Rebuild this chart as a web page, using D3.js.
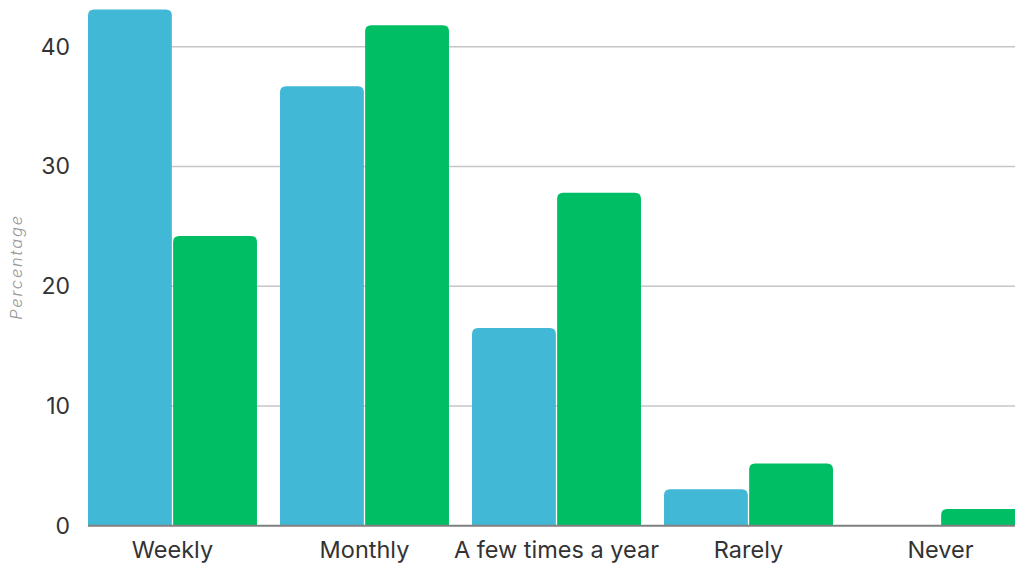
<!DOCTYPE html>
<html>
<head>
<meta charset="utf-8">
<script src="https://cdn.jsdelivr.net/npm/d3@7/dist/d3.min.js"></script>
<style>
  html, body { margin: 0; padding: 0; background: #fff; }
  svg { display: block; }
</style>
</head>
<body>
<svg id="chart" width="1015" height="565"></svg>
<script>
// Frequency categories and the two compared series (percent)
const categories = ["Weekly", "Monthly", "A few times a year", "Rarely", "Never"];
const seriesNames = ["Group A", "Group B"];
const seriesA = [43.1, 36.7, 16.5, 3.05, 0];
const seriesB = [24.2, 41.8, 27.8, 5.2, 1.4];
const yTicks = [0, 10, 20, 30, 40];
const colors = ["#42b8d7", "#00be64"];

const W = 1015, H = 565;
const svg = d3.select("#chart");
const font = "Inter, sans-serif";

const x0 = d3.scaleBand().domain(categories).range([88, 1025]).paddingInner(0.12).paddingOuter(0);
const x1 = d3.scaleBand().domain(seriesNames).range([0, x0.bandwidth()]).paddingInner(0.015);
const y = d3.scaleLinear().domain([0, 40]).range([525.7, 46.7]);

// Horizontal gridlines
svg.append("g")
  .selectAll("line")
  .data(yTicks.filter(t => t > 0))
  .join("line")
  .attr("x1", 88).attr("x2", W)
  .attr("y1", d => y(d)).attr("y2", d => y(d))
  .attr("stroke", "#c6c6c6").attr("stroke-width", 1.5);

// Y axis tick labels
const yAxis = d3.axisLeft(y).tickValues(yTicks).tickSize(0).tickPadding(0);
svg.append("g")
  .attr("transform", "translate(70,0)")
  .call(yAxis)
  .call(g => g.select(".domain").remove())
  .call(g => g.selectAll("text")
    .attr("font-family", font).attr("font-size", 23).attr("fill", "#333"));

// Rounded-top bar path
function barPath(x, yTop, w, yBase, r) {
  const h = yBase - yTop;
  if (h <= 0) return "";
  const rr = Math.min(r, h, w / 2);
  return `M${x},${yBase}V${yTop + rr}Q${x},${yTop} ${x + rr},${yTop}` +
         `H${x + w - rr}Q${x + w},${yTop} ${x + w},${yTop + rr}V${yBase}Z`;
}

const rows = categories.map((c, i) => ({ cat: c, vals: [seriesA[i], seriesB[i]] }));

const groups = svg.append("g")
  .selectAll("g")
  .data(rows)
  .join("g")
  .attr("transform", d => `translate(${x0(d.cat)},0)`);

groups.selectAll("path")
  .data(d => d.vals.map((v, j) => ({ v, j })))
  .join("path")
  .attr("d", d => barPath(x1(seriesNames[d.j]), y(d.v), x1.bandwidth(), y(0), 6))
  .attr("fill", d => colors[d.j]);

// Baseline
svg.append("line")
  .attr("x1", 88).attr("x2", W)
  .attr("y1", y(0)).attr("y2", y(0))
  .attr("stroke", "#808080").attr("stroke-width", 2);

// X axis labels
const xAxis = d3.axisBottom(x0).tickSize(0).tickPadding(0);
svg.append("g")
  .attr("transform", `translate(0,${y(0) + 16})`)
  .call(xAxis)
  .call(g => g.select(".domain").remove())
  .call(g => g.selectAll("text")
    .attr("font-family", font).attr("font-size", 23.5).attr("fill", "#333"));

// Y axis title
svg.append("text")
  .attr("transform", "translate(22,267) rotate(-90)")
  .attr("text-anchor", "middle")
  .attr("font-family", font)
  .attr("font-style", "italic")
  .attr("font-weight", 300)
  .attr("font-size", 16.5)
  .attr("letter-spacing", 1.8)
  .attr("fill", "#9a9a9a")
  .text("Percentage");
</script>
</body>
</html>
